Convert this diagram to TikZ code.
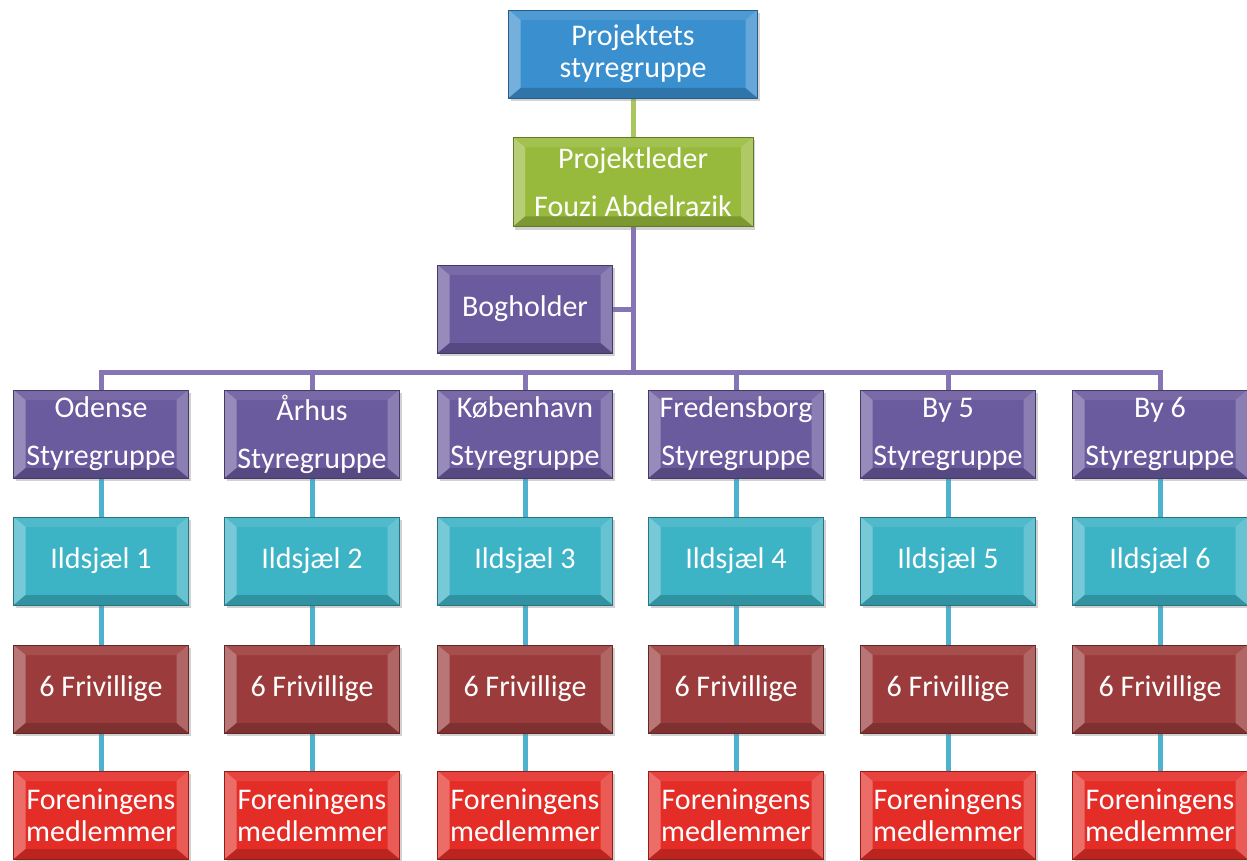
\documentclass[tikz,border=0pt]{standalone}
\usepackage{fontspec}
\setmainfont{Carlito}
\usetikzlibrary{shadows,backgrounds}
\definecolor{cBlue}{HTML}{3A8FCF}
\definecolor{cGreen}{HTML}{98BA3C}
\definecolor{cPurple}{HTML}{6A5A9E}
\definecolor{cCyan}{HTML}{3DB3C6}
\definecolor{cBrown}{HTML}{9C3B3B}
\definecolor{cRed}{HTML}{E52D27}
\definecolor{lGreen}{HTML}{A9C75E}
\definecolor{lPurple}{HTML}{8575B5}
\definecolor{lCyan}{HTML}{4CB2CF}
\tikzset{
  orgbox/.style={rectangle, fill=#1, draw=#1!65!black, line width=0.8pt,
    minimum width=175pt, minimum height=88pt, inner sep=0pt, align=center,
    text=white, font=\fontsize{30}{32}\selectfont,
    drop shadow={shadow xshift=2pt, shadow yshift=-3pt, opacity=0.35},
    path picture={
      \fill[white,opacity=.30] (path picture bounding box.north west) -- ([xshift=12pt,yshift=-10pt]path picture bounding box.north west) -- ([xshift=12pt,yshift=10pt]path picture bounding box.south west) -- (path picture bounding box.south west) -- cycle;
      \fill[white,opacity=.22] (path picture bounding box.north east) -- ([xshift=-12pt,yshift=-10pt]path picture bounding box.north east) -- ([xshift=-12pt,yshift=10pt]path picture bounding box.south east) -- (path picture bounding box.south east) -- cycle;
      \fill[black,opacity=.18] (path picture bounding box.south west) -- ([xshift=12pt,yshift=10pt]path picture bounding box.south west) -- ([xshift=-12pt,yshift=10pt]path picture bounding box.south east) -- (path picture bounding box.south east) -- cycle;
      \fill[white,opacity=.10] (path picture bounding box.north west) -- ([xshift=12pt,yshift=-10pt]path picture bounding box.north west) -- ([xshift=-12pt,yshift=-10pt]path picture bounding box.north east) -- (path picture bounding box.north east) -- cycle;
    }},
  wide/.style={font=\fontsize{30}{48}\selectfont},
  conn/.style={line width=5pt, draw=#1},
}
\begin{document}
\begin{tikzpicture}[x=1pt,y=-1pt]
\useasboundingbox (0,0) rectangle (1247,861);
\node[orgbox=cBlue, minimum width=249pt] (top) at (633,54) {Projektets\\styregruppe};
\node[orgbox=cGreen, wide, minimum width=240pt, minimum height=89pt] (pl) at (633,182) {Projektleder\\Fouzi Abdelrazik};
\node[orgbox=cPurple] (bog) at (525,309) {Bogholder};
\coordinate (bus) at (633,372);
\foreach \i/\x/\city in {1/101/Odense,2/312/Århus,3/525/København,4/736/Fredensborg,5/948/By 5,6/1160/By 6}{
  \node[orgbox=cPurple, wide] (s\i) at (\x,434) {\city\\Styregruppe};
  \node[orgbox=cCyan] (i\i) at (\x,561) {Ildsjæl \i};
  \node[orgbox=cBrown] (f\i) at (\x,689) {6 Frivillige};
  \node[orgbox=cRed] (m\i) at (\x,815) {Foreningens\\medlemmer};
}
\begin{scope}[on background layer]
  \fill[white] (0,0) rectangle (1247,861);
  \draw[conn=lGreen] (top.south) -- (pl.north);
  \draw[conn=lPurple] (pl.south) -- (bus);
  \draw[conn=lPurple] (bog.east) -- (bog.east -| bus);
  \draw[conn=lPurple] (s1.north) |- (bus);
  \draw[conn=lPurple] (s6.north) |- (bus);
  \foreach \i in {2,3,4,5}{
    \draw[conn=lPurple] (s\i.north) -- (s\i.north |- bus);
  }
  \foreach \i in {1,...,6}{
    \draw[conn=lCyan] (s\i.south) -- (i\i.north);
    \draw[conn=lCyan] (i\i.south) -- (f\i.north);
    \draw[conn=lCyan] (f\i.south) -- (m\i.north);
  }
\end{scope}
\end{tikzpicture}
\end{document}
